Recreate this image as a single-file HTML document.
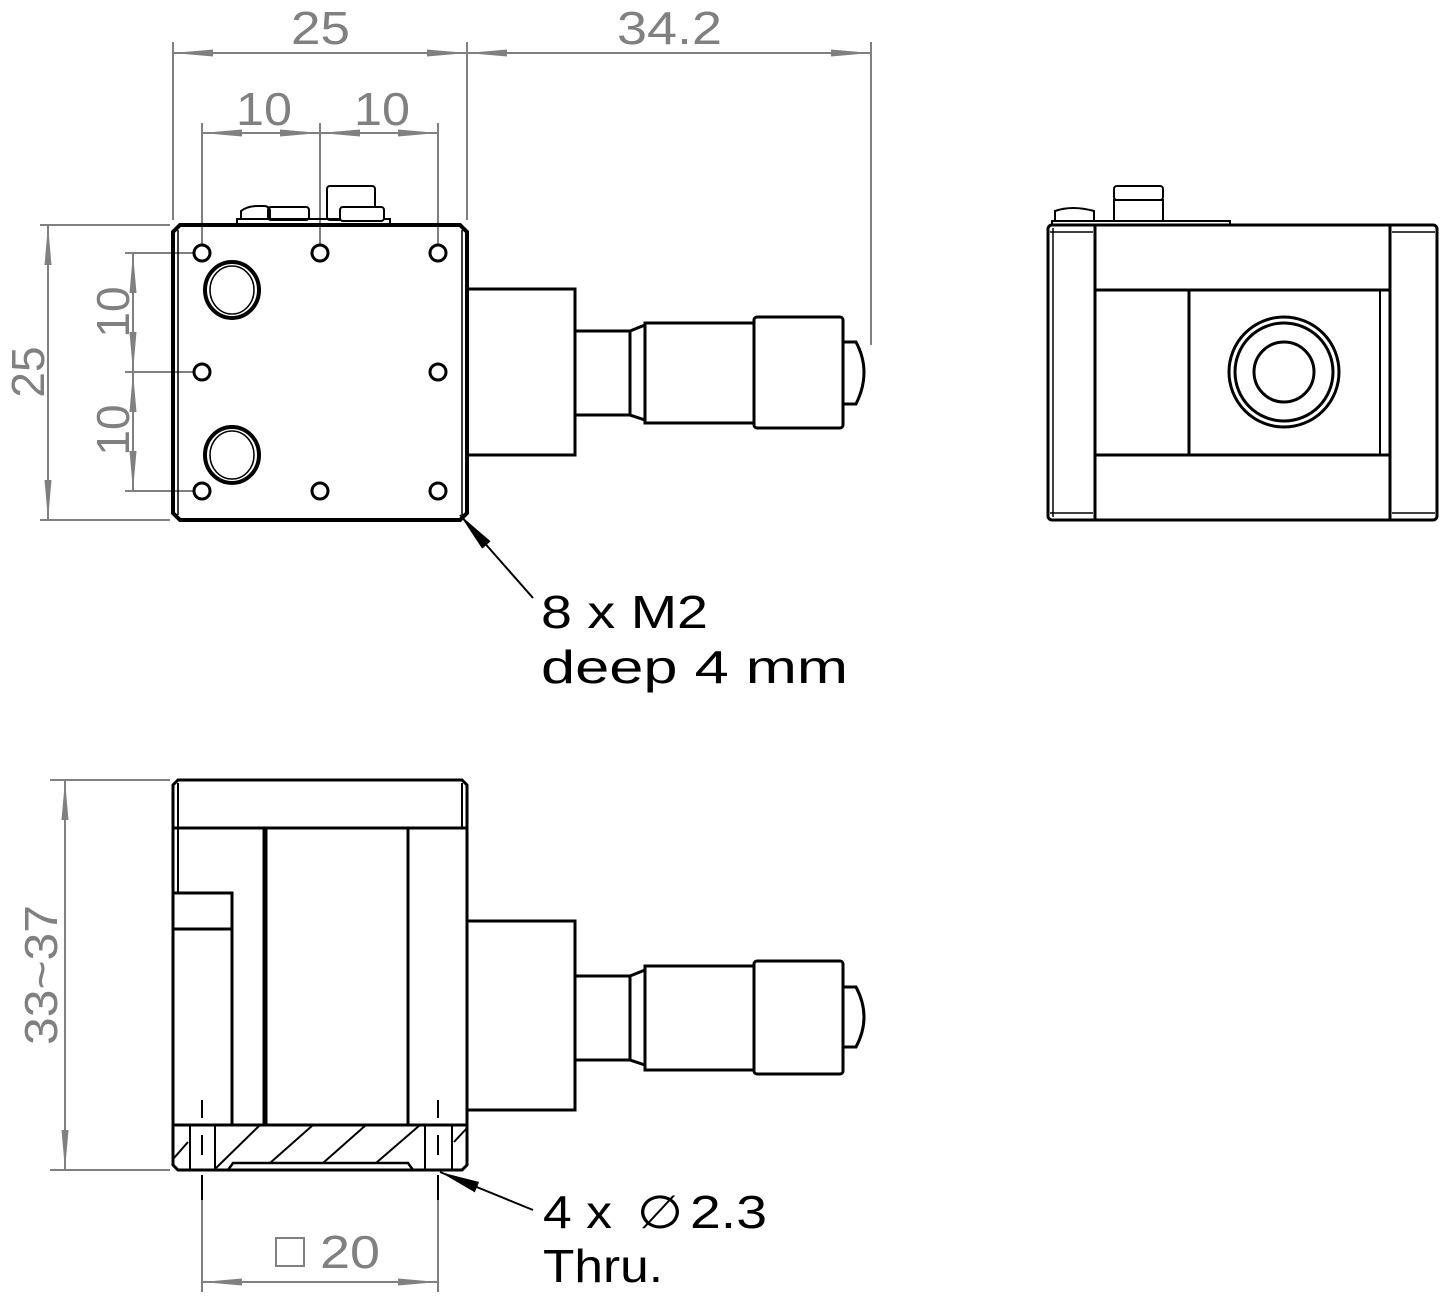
<!DOCTYPE html>
<html><head><meta charset="utf-8"><style>
html,body{margin:0;padding:0;background:#fff}
svg{display:block}
text{font-family:"Liberation Sans",sans-serif;fill:#808080;font-size:46px}
.k{fill:#000}
</style></head><body>
<svg width="1440" height="1298" viewBox="0 0 1440 1298" xmlns="http://www.w3.org/2000/svg">
<defs>
<marker id="a" viewBox="0 0 10 10" refX="10" refY="5" markerWidth="40" markerHeight="10" preserveAspectRatio="none" markerUnits="userSpaceOnUse" orient="auto-start-reverse"><path d="M0,1.5 L10,5 L0,8.5 z" fill="#808080"/></marker>
<marker id="b" viewBox="0 0 10 10" refX="10" refY="5" markerWidth="40" markerHeight="14" preserveAspectRatio="none" markerUnits="userSpaceOnUse" orient="auto-start-reverse"><path d="M0,1 L10,5 L0,9 z" fill="#000"/></marker>
</defs>
<g stroke="#808080" stroke-width="2" fill="none">
<line x1="173" y1="42" x2="173" y2="220"/><line x1="467" y1="42" x2="467" y2="220"/><line x1="871" y1="42" x2="871" y2="345"/>
<line x1="173" y1="53" x2="467" y2="53" marker-start="url(#a)" marker-end="url(#a)"/>
<line x1="467" y1="53" x2="871" y2="53" marker-start="url(#a)" marker-end="url(#a)"/>
<line x1="202" y1="123" x2="202" y2="245"/><line x1="320" y1="123" x2="320" y2="245"/><line x1="438" y1="123" x2="438" y2="245"/>
<line x1="202" y1="133" x2="320" y2="133" marker-start="url(#a)" marker-end="url(#a)"/>
<line x1="320" y1="133" x2="438" y2="133" marker-start="url(#a)" marker-end="url(#a)"/>
<line x1="40" y1="225" x2="170" y2="225"/><line x1="40" y1="520" x2="170" y2="520"/>
<line x1="48" y1="225" x2="48" y2="520" marker-start="url(#a)" marker-end="url(#a)"/>
<line x1="125" y1="253" x2="194" y2="253"/><line x1="125" y1="372" x2="194" y2="372"/><line x1="125" y1="491" x2="194" y2="491"/>
<line x1="133" y1="253" x2="133" y2="372" marker-start="url(#a)" marker-end="url(#a)"/>
<line x1="133" y1="372" x2="133" y2="491" marker-start="url(#a)" marker-end="url(#a)"/>
<line x1="50" y1="780" x2="170" y2="780"/><line x1="50" y1="1170" x2="170" y2="1170"/>
<line x1="65" y1="780" x2="65" y2="1170" marker-start="url(#a)" marker-end="url(#a)"/>
<line x1="202" y1="1175" x2="202" y2="1292" stroke="#000"/><line x1="438" y1="1175" x2="438" y2="1292" stroke="#000"/>
<line x1="202" y1="1200" x2="202" y2="1292"/><line x1="438" y1="1200" x2="438" y2="1292"/>
<line x1="202" y1="1282" x2="438" y2="1282" marker-start="url(#a)" marker-end="url(#a)"/>
</g>
<text x="291" y="44" textLength="59" lengthAdjust="spacingAndGlyphs">25</text>
<text x="617" y="44" textLength="105" lengthAdjust="spacingAndGlyphs">34.2</text>
<text x="236" y="125" textLength="56" lengthAdjust="spacingAndGlyphs">10</text>
<text x="354" y="125" textLength="56" lengthAdjust="spacingAndGlyphs">10</text>
<text transform="translate(44,372) rotate(-90)" text-anchor="middle">25</text>
<text transform="translate(129,312) rotate(-90)" text-anchor="middle">10</text>
<text transform="translate(129,430) rotate(-90)" text-anchor="middle">10</text>
<text transform="translate(57,975) rotate(-90)" text-anchor="middle" textLength="140" lengthAdjust="spacingAndGlyphs">33~37</text>
<rect x="276" y="1238" width="28" height="28" fill="none" stroke="#808080" stroke-width="2"/>
<text x="320" y="1268" textLength="60" lengthAdjust="spacingAndGlyphs">20</text>

<g stroke="#000" stroke-width="3" fill="none">
<path d="M180,225 H460 L467,232 V513 L460,520 H180 L173,513 V232 Z" stroke-width="4"/>
<line x1="178" y1="230" x2="178" y2="515" stroke-width="1.5"/>
<line x1="462" y1="230" x2="462" y2="515" stroke-width="1.5"/>
<circle cx="202" cy="253" r="8"/><circle cx="320" cy="253" r="8"/><circle cx="438" cy="253" r="8"/>
<circle cx="202" cy="372" r="8"/><circle cx="438" cy="372" r="8"/>
<circle cx="202" cy="491" r="8"/><circle cx="320" cy="491" r="8"/><circle cx="438" cy="491" r="8"/>
<ellipse cx="232" cy="290" rx="27" ry="28" stroke-width="4"/><ellipse cx="232" cy="290" rx="22" ry="24" stroke-width="1.5"/>
<ellipse cx="232" cy="455" rx="27" ry="28" stroke-width="4"/><ellipse cx="232" cy="455" rx="22" ry="24" stroke-width="1.5"/>
<path d="M237,225 V219 H390 V225" stroke-width="2"/>
<path d="M241,219 V211 Q247,206 258,206 H265 Q270,207 270,211 V219" stroke-width="2"/>
<rect x="268" y="207" width="41" height="13" rx="3" stroke-width="2"/>
<rect x="327" y="186" width="48" height="34" rx="3" stroke-width="2"/>
<rect x="340" y="207" width="44" height="14" rx="3" stroke-width="2" fill="#fff"/>
<rect x="467" y="289" width="108" height="166"/>
<rect x="575" y="331" width="55" height="84"/>
<path d="M630,331 L645,325 V420 L630,415 Z"/>
<rect x="645" y="323" width="109" height="100"/>
<rect x="754" y="317" width="89" height="111" rx="3"/>
<path d="M843,342 H856 Q872,372 856,404 H843"/>
<line x1="533" y1="598" x2="460" y2="515" stroke-width="2" marker-end="url(#b)"/>
<rect x="1048" y="225" width="389" height="295" rx="4"/>
<line x1="1053" y1="228" x2="1053" y2="517" stroke-width="1.5"/>
<line x1="1095" y1="225" x2="1095" y2="520"/><line x1="1390" y1="225" x2="1390" y2="520"/>
<line x1="1095" y1="290" x2="1390" y2="290"/><line x1="1095" y1="455" x2="1390" y2="455"/>
<line x1="1189" y1="290" x2="1189" y2="455"/><line x1="1380" y1="290" x2="1380" y2="455" stroke-width="2"/>
<line x1="1050" y1="232" x2="1093" y2="232" stroke-width="1.5"/><line x1="1392" y1="232" x2="1435" y2="232" stroke-width="1.5"/>
<line x1="1050" y1="513" x2="1093" y2="513" stroke-width="1.5"/><line x1="1392" y1="513" x2="1435" y2="513" stroke-width="1.5"/>
<circle cx="1284" cy="372" r="55"/><circle cx="1284" cy="372" r="49"/><circle cx="1284" cy="372" r="30"/>
<path d="M1052,225 V221 H1230 V225" stroke-width="2"/>
<path d="M1055,221 V211 Q1072,205 1094,211 V221" stroke-width="2"/>
<rect x="1114" y="186" width="49" height="14" rx="3" stroke-width="2"/>
<rect x="1114" y="200" width="49" height="21" stroke-width="2"/>
<path d="M178,780 H462 L467,785 V1165 L462,1170 H178 L173,1165 V785 Z"/>
<line x1="173" y1="828" x2="467" y2="828"/>
<line x1="178" y1="783" x2="178" y2="893" stroke-width="2"/><line x1="462" y1="783" x2="462" y2="828" stroke-width="2"/>
<path d="M173,893 H232 V1125"/><line x1="173" y1="929" x2="232" y2="929"/>
<line x1="265" y1="828" x2="265" y2="1125" stroke-width="5"/>
<line x1="408" y1="828" x2="408" y2="1125"/>
<line x1="173" y1="1125" x2="467" y2="1125"/>
<path d="M228,1170 L233,1163 H408 L413,1170" stroke-width="2.5"/>
<line x1="190" y1="1125" x2="190" y2="1170" stroke-width="2"/><line x1="215" y1="1125" x2="215" y2="1170" stroke-width="2"/>
<line x1="425" y1="1125" x2="425" y2="1170" stroke-width="2"/><line x1="452" y1="1125" x2="452" y2="1170" stroke-width="2"/>
<line x1="202" y1="1100" x2="202" y2="1118" stroke-width="2"/><line x1="202" y1="1135" x2="202" y2="1155" stroke-width="2"/>
<line x1="438" y1="1100" x2="438" y2="1118" stroke-width="2"/><line x1="438" y1="1135" x2="438" y2="1155" stroke-width="2"/>
<g stroke-width="2"><line x1="174" y1="1158" x2="188" y2="1142"/><line x1="216" y1="1168" x2="260" y2="1125"/><line x1="270" y1="1163" x2="313" y2="1125"/><line x1="323" y1="1163" x2="366" y2="1125"/><line x1="376" y1="1163" x2="420" y2="1125"/><line x1="454" y1="1142" x2="467" y2="1128"/></g>
<rect x="467" y="921" width="108" height="189"/>
<rect x="575" y="976" width="55" height="84"/>
<path d="M630,976 L645,970 V1065 L630,1060 Z"/>
<rect x="645" y="966" width="109" height="104"/>
<rect x="754" y="961" width="89" height="113" rx="3"/>
<path d="M843,987 H856 Q872,1017 856,1047 H843"/>
<line x1="533" y1="1210" x2="440" y2="1172" stroke-width="2" marker-end="url(#b)"/>
</g>
<text class="k" x="541" y="628" textLength="167" lengthAdjust="spacingAndGlyphs">8 x M2</text>
<text class="k" x="541" y="683" textLength="307" lengthAdjust="spacingAndGlyphs">deep 4 mm</text>
<text class="k" x="543" y="1228" textLength="69" lengthAdjust="spacingAndGlyphs">4 x</text>
<text class="k" x="637" y="1228" textLength="46" lengthAdjust="spacingAndGlyphs">∅</text>
<text class="k" x="690" y="1228" textLength="77" lengthAdjust="spacingAndGlyphs">2.3</text>
<text class="k" x="543" y="1282" textLength="120" lengthAdjust="spacingAndGlyphs">Thru.</text>
</svg>
</body></html>
